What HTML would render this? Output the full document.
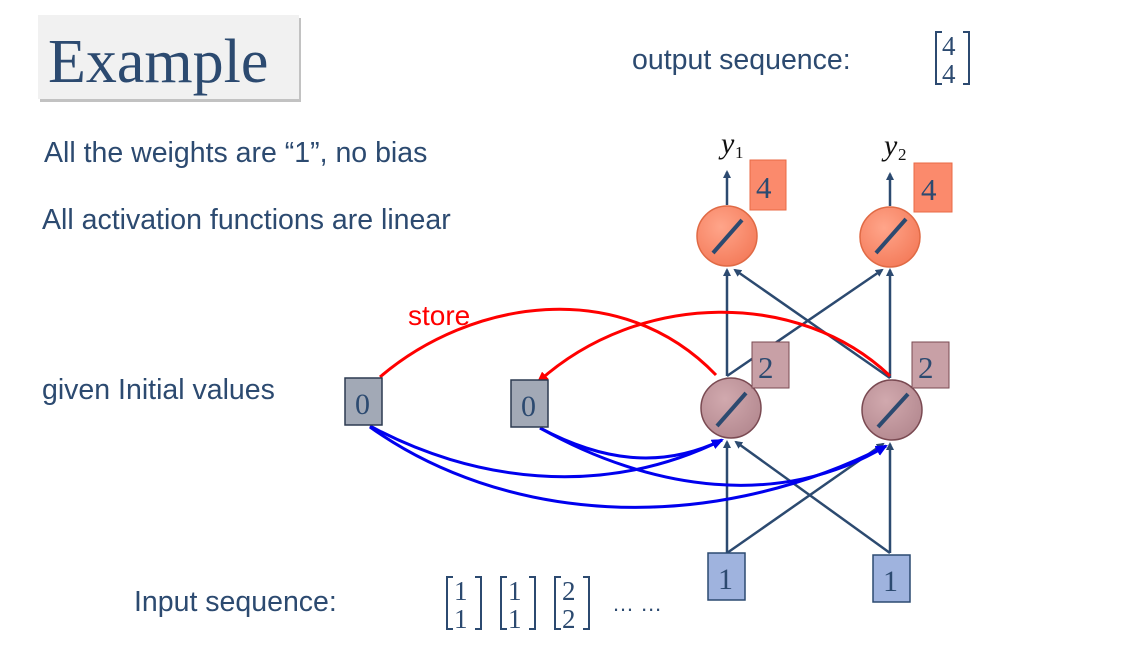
<!DOCTYPE html>
<html><head><meta charset="utf-8"><style>
html,body{margin:0;padding:0;background:#fff;}
svg{display:block;}
.s{font-family:"Liberation Sans",sans-serif;fill:#2c4a70;}
.r{font-family:"Liberation Serif",serif;fill:#2c4a70;}
</style></head><body>
<svg width="1143" height="656" viewBox="0 0 1143 656" xmlns="http://www.w3.org/2000/svg">
<defs>
<marker id="ab" markerWidth="8" markerHeight="8" refX="6" refY="4" orient="auto" markerUnits="userSpaceOnUse"><path d="M0,0 L8,4 L0,8 Z" fill="#2c4a70"/></marker>
<marker id="ar" markerWidth="12" markerHeight="10" refX="10" refY="5" orient="auto" markerUnits="userSpaceOnUse"><path d="M0,0 L12,5 L0,10 Z" fill="#ff0000"/></marker>
<marker id="abl" markerWidth="12" markerHeight="10" refX="10" refY="5" orient="auto" markerUnits="userSpaceOnUse"><path d="M0,0 L12,5 L0,10 Z" fill="#0000ee"/></marker>
<radialGradient id="og" cx="0.4" cy="0.35" r="0.7"><stop offset="0" stop-color="#ffa58a"/><stop offset="1" stop-color="#f47b5a"/></radialGradient>
<radialGradient id="hg" cx="0.4" cy="0.35" r="0.7"><stop offset="0" stop-color="#d1a9ae"/><stop offset="1" stop-color="#b48990"/></radialGradient>
</defs>
<rect x="40" y="18" width="261" height="84" fill="#999" opacity="0.6"/>
<rect x="38" y="15" width="261" height="84" fill="#f1f1f1"/>
<text x="48" y="82" class="r" font-size="62">Example</text>
<text x="44" y="162" class="s" font-size="28.5">All the weights are “1”, no bias</text>
<text x="42" y="229" class="s" font-size="28.5">All activation functions are linear</text>
<text x="42" y="399" class="s" font-size="28.5">given Initial values</text>
<text x="134" y="611" class="s" font-size="28.5">Input sequence:</text>
<text x="632" y="69" class="s" font-size="28.5">output sequence:</text>
<path d="M942,32 L936,32 L936,84 L942,84" fill="none" stroke="#2c4a70" stroke-width="2"/>
<path d="M963,32 L969,32 L969,84 L963,84" fill="none" stroke="#2c4a70" stroke-width="2"/>
<text x="942" y="55" class="r" font-size="27">4</text>
<text x="942" y="83" class="r" font-size="27">4</text>
<g fill="none" stroke="#2c4a70" stroke-width="2">
<path d="M453,577 L447,577 L447,629 L453,629"/><path d="M475,577 L481,577 L481,629 L475,629"/>
<path d="M507,577 L501,577 L501,629 L507,629"/><path d="M529,577 L535,577 L535,629 L529,629"/>
<path d="M561,577 L555,577 L555,629 L561,629"/><path d="M583,577 L589,577 L589,629 L583,629"/>
</g>
<text x="454" y="600" class="r" font-size="27">1</text><text x="454" y="628" class="r" font-size="27">1</text>
<text x="508" y="600" class="r" font-size="27">1</text><text x="508" y="628" class="r" font-size="27">1</text>
<text x="562" y="600" class="r" font-size="27">2</text><text x="562" y="628" class="r" font-size="27">2</text>
<text x="612" y="611" class="s" font-size="22">… …</text>
<g stroke="#2c4a70" stroke-width="2.5" fill="none" marker-end="url(#ab)">
<line x1="727" y1="205" x2="727" y2="172"/>
<line x1="890" y1="206" x2="890" y2="174"/>
<line x1="727" y1="376" x2="727" y2="270"/>
<line x1="727" y1="376" x2="882" y2="270"/>
<line x1="890" y1="378" x2="735" y2="270"/>
<line x1="890" y1="378" x2="890" y2="270"/>
<line x1="727" y1="553" x2="727" y2="442"/>
<line x1="727" y1="553" x2="883" y2="444"/>
<line x1="890" y1="553" x2="736" y2="442"/>
<line x1="890" y1="553" x2="890" y2="444"/>
</g>
<path d="M380,377 C470,300 620,275 716,375" fill="none" stroke="#ff0000" stroke-width="3"/>
<path d="M890,376 C800,290 640,290 538,382" fill="none" stroke="#ff0000" stroke-width="3" marker-end="url(#ar)"/>
<text x="408" y="325" font-family="Liberation Sans,sans-serif" font-size="28" fill="#ff0000">store</text>
<g fill="none" stroke="#0000ee" stroke-width="3" marker-end="url(#abl)">
<path d="M370,426 C470,480 600,500 722,440"/>
<path d="M370,427 C500,520 700,540 886,446"/>
<path d="M540,428 C600,460 660,470 722,440"/>
<path d="M540,428 C650,490 780,510 886,446"/>
</g>
<circle cx="727" cy="236" r="30" fill="url(#og)" stroke="#e06a45" stroke-width="1.5"/>
<circle cx="890" cy="237" r="30" fill="url(#og)" stroke="#e06a45" stroke-width="1.5"/>
<circle cx="731" cy="408" r="30" fill="url(#hg)" stroke="#7a4a52" stroke-width="1.5"/>
<circle cx="892" cy="410" r="30" fill="url(#hg)" stroke="#7a4a52" stroke-width="1.5"/>
<g stroke="#2c4a70" stroke-width="4">
<line x1="713" y1="253" x2="742" y2="220"/>
<line x1="876" y1="253" x2="906" y2="219"/>
<line x1="717" y1="426" x2="746" y2="393"/>
<line x1="878" y1="427" x2="908" y2="394"/>
</g>
<rect x="750" y="160" width="36" height="50" fill="#fb8a6c" stroke="#e86a45"/>
<text x="756" y="198" class="r" font-size="31">4</text>
<rect x="914" y="163" width="38" height="49" fill="#fb8a6c" stroke="#e86a45"/>
<text x="921" y="200" class="r" font-size="31">4</text>
<rect x="752" y="342" width="37" height="46" fill="#c8a0a6" stroke="#7a4a52"/>
<text x="758" y="378" class="r" font-size="31">2</text>
<rect x="912" y="342" width="37" height="46" fill="#c8a0a6" stroke="#7a4a52"/>
<text x="918" y="378" class="r" font-size="31">2</text>
<rect x="345" y="378" width="37" height="47" fill="#a2a9b6" stroke="#2c3a50" stroke-width="1.5"/>
<text x="355" y="414" class="r" font-size="30">0</text>
<rect x="511" y="380" width="37" height="47" fill="#a2a9b6" stroke="#2c3a50" stroke-width="1.5"/>
<text x="521" y="416" class="r" font-size="30">0</text>
<rect x="708" y="553" width="37" height="47" fill="#9fb3de" stroke="#2c4a70" stroke-width="1.5"/>
<text x="718" y="589" class="r" font-size="30">1</text>
<rect x="873" y="555" width="37" height="47" fill="#9fb3de" stroke="#2c4a70" stroke-width="1.5"/>
<text x="883" y="591" class="r" font-size="30">1</text>
<text x="721" y="153" font-family="Liberation Serif,serif" font-style="italic" font-size="30" fill="#111">y</text>
<text x="735" y="158" font-family="Liberation Serif,serif" font-size="17" fill="#111">1</text>
<text x="884" y="155" font-family="Liberation Serif,serif" font-style="italic" font-size="30" fill="#111">y</text>
<text x="898" y="160" font-family="Liberation Serif,serif" font-size="17" fill="#111">2</text>
</svg>
</body></html>
